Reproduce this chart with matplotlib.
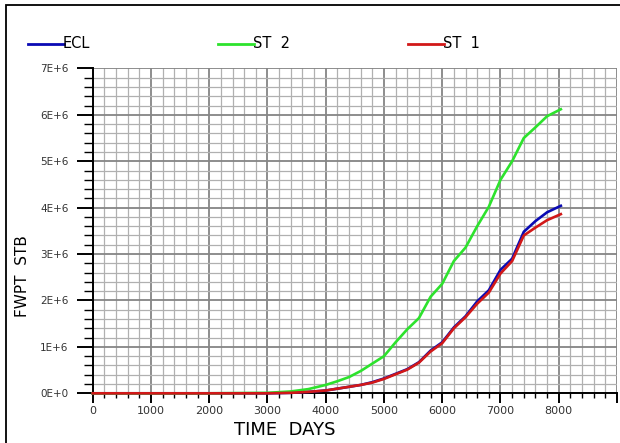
import matplotlib
matplotlib.use("Agg")
import matplotlib.pyplot as plt
from matplotlib.lines import Line2D
from matplotlib.patches import Rectangle
from matplotlib.ticker import MultipleLocator, FuncFormatter
import numpy as np

# cumulative water production, million STB
days = [0, 400, 1000, 2000, 3000, 3400, 3700, 4000, 4200, 4400, 4600, 4800,
        5000, 5200, 5400, 5600, 5800, 6000, 6200, 6400, 6600, 6800, 7000,
        7200, 7400, 7600, 7800, 8036]
ecl = [0, 0, 0, 0, 0, 0.01, 0.03, 0.06, 0.10, 0.14, 0.18, 0.24,
       0.32, 0.42, 0.52, 0.67, 0.92, 1.10, 1.42, 1.66, 1.98, 2.22, 2.66,
       2.90, 3.48, 3.71, 3.90, 4.04]
st2 = [0, 0, 0, 0, 0.01, 0.04, 0.09, 0.18, 0.26, 0.35, 0.48, 0.64,
       0.80, 1.10, 1.38, 1.62, 2.08, 2.36, 2.85, 3.14, 3.60, 4.02, 4.60,
       5.00, 5.50, 5.73, 5.97, 6.12]
st1 = [0, 0, 0, 0, 0, 0.01, 0.03, 0.06, 0.10, 0.14, 0.18, 0.23,
       0.31, 0.41, 0.51, 0.66, 0.90, 1.08, 1.40, 1.64, 1.93, 2.17, 2.58,
       2.85, 3.40, 3.57, 3.73, 3.86]

names = ["ECL", "ST  2", "ST  1"]
colors = ["#0a0ab4", "#2de22d", "#d11818"]
x_ticks = [0, 1000, 2000, 3000, 4000, 5000, 6000, 7000, 8000, 9000]
x_ticklabels = ["0", "1000", "2000", "3000", "4000", "5000", "6000", "7000", "8000", ""]

W, H = 620, 443
fig = plt.figure(figsize=(W / 100, H / 100), dpi=100)
ax = fig.add_axes([92.7 / W, (H - 393.3) / H, (617 - 92.7) / W, (393.3 - 68.4) / H])

for vals, c in zip([ecl, st2, st1], colors):
    ax.plot(days, np.array(vals) * 1e6, color=c, lw=1.9, zorder=3, clip_on=False)

ax.set_xlim(0, 9000)
ax.set_ylim(0, 7e6)
ax.set_xticks(x_ticks)
ax.set_xticklabels(x_ticklabels)
ax.xaxis.set_minor_locator(MultipleLocator(200))
ax.yaxis.set_major_locator(MultipleLocator(1e6))
ax.yaxis.set_minor_locator(MultipleLocator(2e5))
ax.yaxis.set_major_formatter(FuncFormatter(
    lambda v, p: "0E+0" if v == 0 else f"{int(round(v / 1e6))}E+6"))

ax.grid(which="minor", color="#b0b0b0", lw=0.9)
ax.grid(which="major", color="#858585", lw=1.3)
ax.set_axisbelow(True)

for s in ["top", "right"]:
    ax.spines[s].set_visible(False)
for s in ["left", "bottom"]:
    ax.spines[s].set_linewidth(1.4)
    ax.spines[s].set_color("black")

ax.tick_params(axis="y", which="major", length=11.5, width=1.4, pad=6,
               labelsize=7.5, labelcolor="#333333")
ax.tick_params(axis="y", which="minor", length=6.5, width=1.0)
ax.tick_params(axis="x", which="major", length=7, width=1.4, pad=2,
               labelsize=8, labelcolor="#333333")
ax.tick_params(axis="x", which="minor", length=3.5, width=1.0)

ax.set_xlabel("TIME  DAYS", fontsize=13)
ax.xaxis.set_label_coords(0.367, -0.085)
ax.set_ylabel("FWPT  STB", fontsize=11)
ax.yaxis.set_label_coords(-0.12, 0.36)

# legend row across the top
leg_x = [28, 218, 408]
leg_y = 1 - 44 / H
for x0, name, c in zip(leg_x, names, colors):
    fig.add_artist(Line2D([x0 / W, (x0 + 36) / W], [leg_y, leg_y], color=c, lw=2))
    fig.text((x0 + 35) / W, leg_y, name, fontsize=10.5, va="center", ha="left")

# outer frame
fig.add_artist(Rectangle((6 / W, -0.5), 2, 0.5 + (H - 5) / H, fill=False,
                         edgecolor="black", lw=1.3, transform=fig.transFigure))

fig.savefig("out.png", dpi=100)
